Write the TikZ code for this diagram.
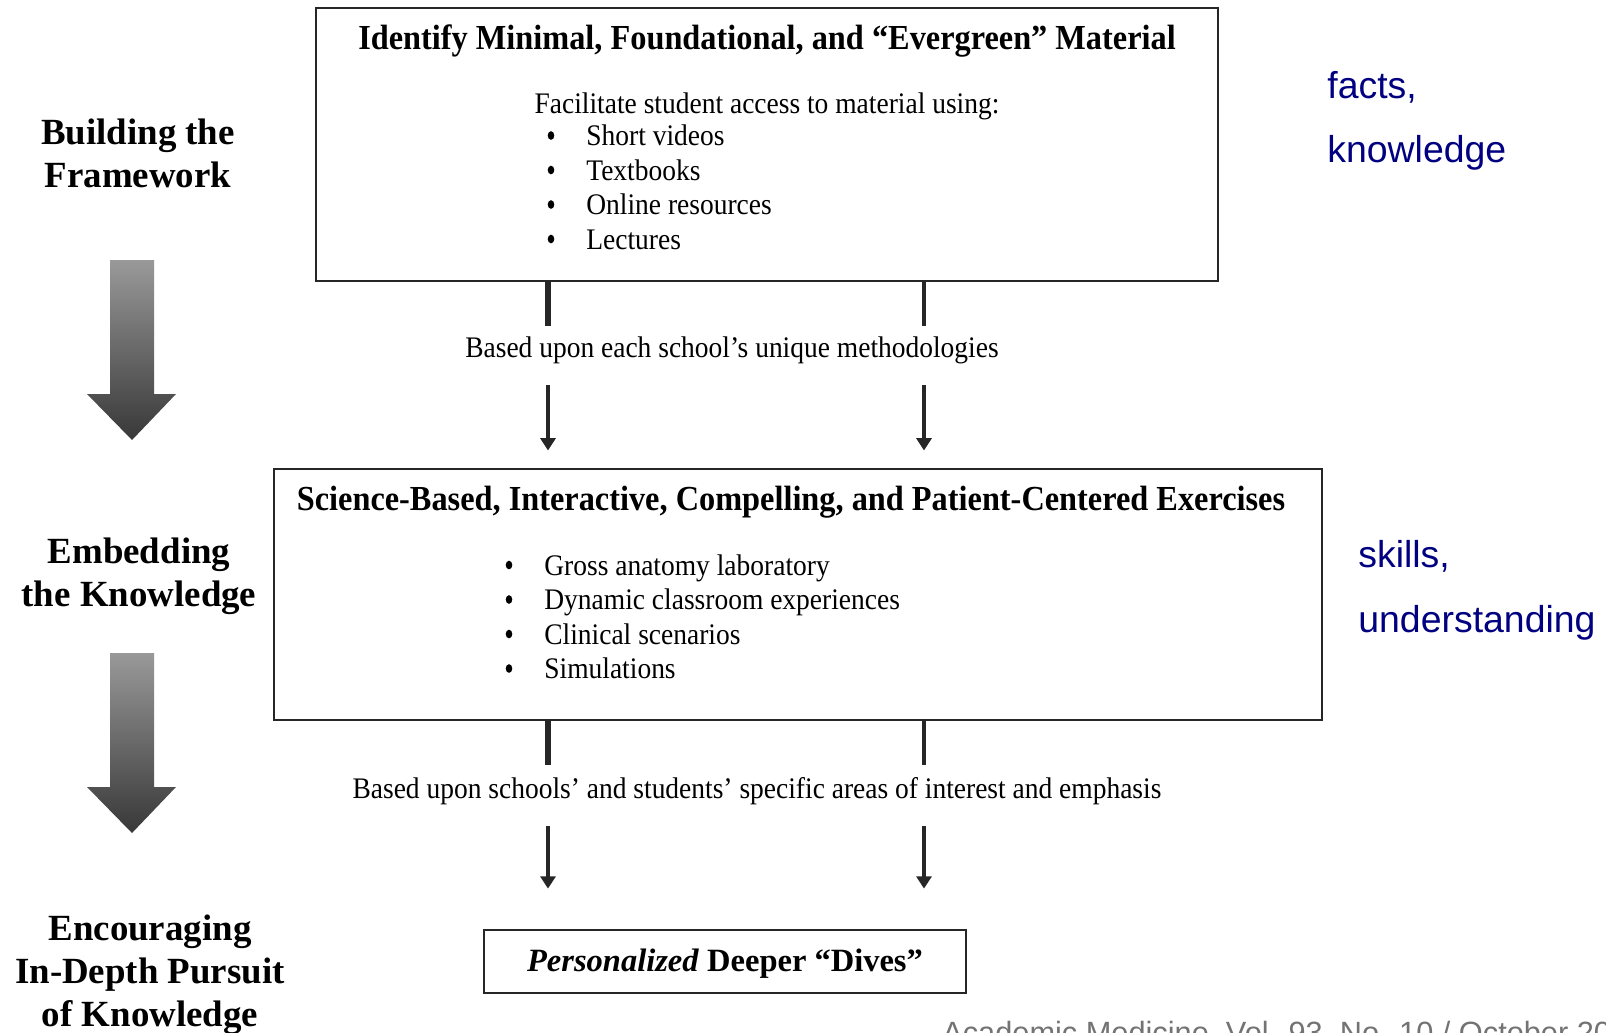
\documentclass[tikz,border=0pt]{standalone}
\usepackage{fontspec}
\setmainfont{Liberation Serif}
\newfontfamily\condfont[FakeStretch=0.92]{Liberation Serif}
\newfontfamily\notefont{Liberation Sans}
\usetikzlibrary{arrows.meta}
\definecolor{notecol}{RGB}{0,0,128}

\begin{document}
\begin{tikzpicture}[x=0.02cm,y=-0.02cm,
	box/.style={draw=black!85,line width=1.1pt,inner sep=0pt},
	head/.style={font=\condfont\bfseries\fontsize{20}{24}\selectfont,inner sep=0pt,anchor=base},
	item/.style={font=\condfont\fontsize{17}{20}\selectfont,inner sep=0pt,anchor=base},
	stage/.style={font=\bfseries\fontsize{21}{24.5}\selectfont,align=center},
	note/.style={font=\notefont\fontsize{21.3}{25}\selectfont,text=notecol,anchor=west,inner sep=0pt},
	stub/.style={line width=3.8pt,black!85},
	thinstub/.style={line width=2.3pt,black!85},
	down/.style={line width=1.8pt,black!85,-{Triangle[width=8.5pt,length=7pt]}},
	bigarrow/.style={top color=black!40,bottom color=black!78}]

	\useasboundingbox (0,0) rectangle (1606,1032);

	% stages on the left
	\node[stage] (build) at (138,153) {Building the\\Framework};
	\node[stage] (embed) at (139,576) {Embedding\\the Knowledge};
	\node[stage] (encour) at (150,975) {Encouraging\\In-Depth Pursuit\\of Knowledge};

	\foreach \y in {260,653}
	{
		\shade[bigarrow] (110,\y) -- (154,\y) -- (154,\y+134) -- (176,\y+134)
			-- (132,\y+180) -- (87,\y+134) -- (110,\y+134) -- cycle;
	}

	% top box
	\node[box,minimum width=18.04cm,minimum height=5.46cm] (ident) at (767,144.5) {};
	\node[head] (identhead) at (767,49) {Identify Minimal, Foundational, and “Evergreen” Material};
	\node[item] (access) at (767,113) {Facilitate student access to material using:};
	\foreach \txt [count=\i] in {Short videos,Textbooks,Online resources,Lectures}
	{
		\fill (551,135.5+34.5*\i-34.5) ellipse (3.3 and 4.3);
		\node[item,anchor=base west] (src\i) at (586,145.5+34.5*\i-34.5) {\txt};
	}

	% middle box
	\node[box,minimum width=20.96cm,minimum height=5.02cm] (exer) at (798,594.5) {};
	\node[head] (exerhead) at (791,510) {Science-Based, Interactive, Compelling, and Patient-Centered Exercises};
	\foreach \txt [count=\i] in {Gross anatomy laboratory,Dynamic classroom experiences,Clinical scenarios,Simulations}
	{
		\fill (509,565+34.5*\i-34.5) ellipse (3.3 and 4.3);
		\node[item,anchor=base west] (ex\i) at (544,575+34.5*\i-34.5) {\txt};
	}

	% bottom box
	\node[box,minimum width=9.64cm,minimum height=1.26cm] (dive) at (725,961.5) {};
	\node[font=\bfseries\fontsize{18.5}{22}\selectfont,inner sep=0pt,anchor=base] (divetxt) at (725,971) {\textit{Personalized} Deeper “Dives”};

	% connectors
	\coordinate (a1) at (548,326);
	\coordinate (a2) at (924,326);
	\coordinate (b1) at (548,385);
	\coordinate (b2) at (924,385);
	\draw[stub] (ident.south -| a1) -- (a1);
	\draw[thinstub] (ident.south -| a2) -- (a2);
	\node[item] (method) at (732,357) {Based upon each school’s unique methodologies};
	\draw[down,shorten >=10pt] (b1) -- (exer.north -| b1);
	\draw[down,shorten >=10pt] (b2) -- (exer.north -| b2);

	\coordinate (c1) at (548,765);
	\coordinate (c2) at (924,765);
	\coordinate (d1) at (548,826);
	\coordinate (d2) at (924,826);
	\draw[stub] (exer.south -| c1) -- (c1);
	\draw[thinstub] (exer.south -| c2) -- (c2);
	\node[item] (interest) at (757,798) {Based upon schools’ and students’ specific areas of interest and emphasis};
	\draw[down,shorten >=23pt] (d1) -- (dive.north -| d1);
	\draw[down,shorten >=23pt] (d2) -- (dive.north -| d2);

	% notes on the right
	\node[note] (facts) at (1327,87) {facts,};
	\node[note] (know) at (1327,153) {knowledge};
	\node[note] (skills) at (1358,556) {skills,};
	\node[note] (under) at (1358,623) {understanding};

	\node[font=\notefont\fontsize{17.5}{21}\selectfont,text=black!55,anchor=base west,inner sep=0pt] (cite) at (942,1043) {Academic Medicine, Vol. 93, No. 10 / October 2018};

\end{tikzpicture}
\end{document}
